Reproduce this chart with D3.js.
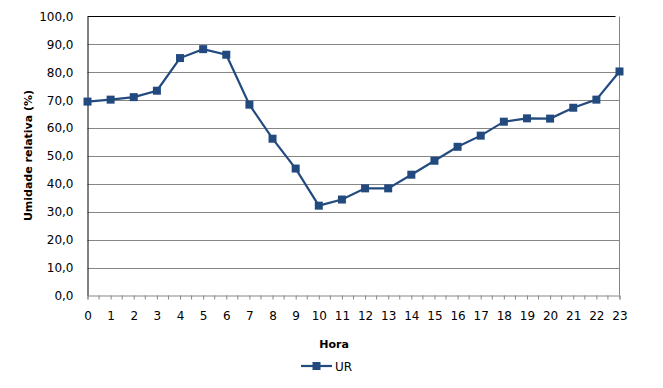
<!DOCTYPE html>
<html lang="pt">

<head>
	<meta charset="utf-8">
	<title>Umidade relativa por hora</title>
	<script type="text/javascript" src="https://cdn.jsdelivr.net/npm/d3@7"></script>
	<style>
		body { margin: 0; background: #fff; }
		text { font-family: "DejaVu Sans", Verdana, sans-serif; }
	</style>
</head>

<body>
	<script type="text/javascript">

		// Data
		const hours = [0, 1, 2, 3, 4, 5, 6, 7, 8, 9, 10, 11, 12, 13, 14, 15, 16, 17, 18, 19, 20, 21, 22, 23];
		const ur = [69.5, 70.2, 71.1, 73.4, 85.1, 88.3, 86.3, 68.4, 56.2, 45.5, 32.2, 34.4,
			38.4, 38.4, 43.3, 48.3, 53.3, 57.3, 62.3, 63.5, 63.4, 67.3, 70.2, 80.3];
		const yTicks = [0, 10, 20, 30, 40, 50, 60, 70, 80, 90, 100];
		const seriesName = "UR";

		const w = 663;
		const h = 388;
		const plotLeft = 87.5;
		const plotRight = 619.5;
		const plotTop = 16.5;
		const plotBottom = 295.5;
		const color = "#234a7f";

		const svg = d3.select("body")
			.append("svg")
			.attr("width", w)
			.attr("height", h);

		const x = d3.scaleLinear()
			.domain([0, 23])
			.range([plotLeft, plotRight]);

		const y = d3.scaleLinear()
			.domain([0, 100])
			.range([plotBottom, plotTop]);

		// Gridlines
		svg.selectAll("line.grid")
			.data(yTicks.filter(d => d > 0 && d < 100))
			.enter()
			.append("line")
			.attr("class", "grid")
			.attr("x1", plotLeft)
			.attr("x2", plotRight)
			.attr("y1", d => Math.round(y(d)) + 0.5)
			.attr("y2", d => Math.round(y(d)) + 0.5)
			.attr("stroke", "#868686")
			.attr("stroke-width", 1);

		// Top and right border
		svg.append("line")
			.attr("x1", plotLeft).attr("x2", plotRight - 4)
			.attr("y1", plotTop).attr("y2", plotTop)
			.attr("stroke", "#000");
		svg.append("line")
			.attr("x1", plotRight).attr("x2", plotRight)
			.attr("y1", plotTop).attr("y2", plotBottom)
			.attr("stroke", "#868686");

		// Y axis
		const yAxis = d3.axisLeft(y)
			.tickValues(yTicks)
			.tickSize(0)
			.tickPadding(14)
			.tickFormat(d => d3.format(".1f")(d).replace(".", ","));

		const gy = svg.append("g")
			.attr("transform", `translate(${plotLeft},0)`)
			.call(yAxis);
		gy.select(".domain").attr("stroke", "#000");
		gy.selectAll("text")
			.attr("font-size", "12px")
			.attr("fill", "#000")
			.attr("font-family", "DejaVu Sans, sans-serif");

		// X axis (labels at hours, ticks every half hour)
		const xAxis = d3.axisBottom(x)
			.tickValues(hours)
			.tickSize(4)
			.tickPadding(12)
			.tickFormat(d => d);

		const gx = svg.append("g")
			.attr("transform", `translate(0,${plotBottom})`)
			.call(xAxis);
		gx.select(".domain").attr("stroke", "#868686");
		gx.selectAll(".tick line").attr("stroke", "#868686");
		gx.selectAll("text")
			.attr("font-size", "12px")
			.attr("fill", "#000")
			.attr("font-family", "DejaVu Sans, sans-serif");

		gx.selectAll("line.minor")
			.data(hours.slice(0, -1))
			.enter()
			.append("line")
			.attr("class", "minor")
			.attr("x1", d => x(d + 0.5))
			.attr("x2", d => x(d + 0.5))
			.attr("y1", 0)
			.attr("y2", 4)
			.attr("stroke", "#868686");

		// Line
		const line = d3.line()
			.x((d, i) => x(hours[i]))
			.y(d => y(d));

		svg.append("path")
			.datum(ur)
			.attr("d", line)
			.attr("fill", "none")
			.attr("stroke", color)
			.attr("stroke-width", 2.2);

		// Markers
		svg.selectAll("rect.marker")
			.data(ur)
			.enter()
			.append("rect")
			.attr("class", "marker")
			.attr("x", (d, i) => x(hours[i]) - 4)
			.attr("y", d => y(d) - 4)
			.attr("width", 8)
			.attr("height", 8)
			.attr("fill", color);

		// Axis titles
		svg.append("text")
			.text("Umidade relativa (%)")
			.attr("transform", "translate(32,155.5) rotate(-90)")
			.attr("text-anchor", "middle")
			.attr("font-size", "11px")
			.attr("font-weight", "bold");

		svg.append("text")
			.text("Hora")
			.attr("x", 334)
			.attr("y", 348)
			.attr("text-anchor", "middle")
			.attr("font-size", "11px")
			.attr("font-weight", "bold");

		// Legend
		const lg = svg.append("g").attr("transform", "translate(301,366)");
		lg.append("line")
			.attr("x1", 0).attr("x2", 31)
			.attr("y1", 0).attr("y2", 0)
			.attr("stroke", color)
			.attr("stroke-width", 2.2);
		lg.append("rect")
			.attr("x", 11.5).attr("y", -4)
			.attr("width", 8).attr("height", 8)
			.attr("fill", color);
		lg.append("text")
			.text(seriesName)
			.attr("x", 34)
			.attr("y", 4.5)
			.attr("font-size", "12px");

	</script>
</body>

</html>
